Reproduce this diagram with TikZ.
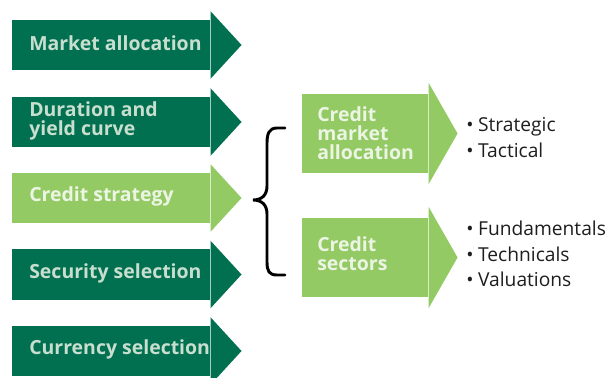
\documentclass[tikz,border=0pt]{standalone}
\usepackage{fontspec}
\setmainfont{Open Sans}
\usetikzlibrary{calc}
\definecolor{dgreen}{RGB}{0,112,80}
\definecolor{lgreen}{RGB}{147,202,100}
\definecolor{dtext}{RGB}{200,222,206}
\definecolor{ltext}{RGB}{236,244,228}
\definecolor{btext}{RGB}{30,30,30}

\begin{document}
\begin{tikzpicture}[x=0.75pt, y=-0.75pt,
    body/.style={rectangle, anchor=west, inner sep=0pt, minimum width=148.5pt, minimum height=37.5pt},
    rbody/.style={rectangle, anchor=west, inner sep=0pt, minimum width=94.5pt, minimum height=59.25pt},
    lbl/.style={anchor=west, inner sep=0pt, align=left, font=\fontsize{14.6}{14.2}\selectfont\bfseries},
    bullets/.style={anchor=west, inner sep=0pt, align=left, text=btext, font=\fontsize{14.4}{19.2}\selectfont}]
  \useasboundingbox (0,0) rectangle (608,378);

  % left column
  \foreach \nm/\cy/\col/\tc/\txt in {mkt/45/dgreen/dtext/Market allocation,
      dur/122/dgreen/dtext/{Duration and\\yield curve},
      crs/198/lgreen/ltext/Credit strategy,
      sec/274.5/dgreen/dtext/Security selection,
      cur/351/dgreen/dtext/Currency selection}
  {
    \node[body, fill=\col] (\nm) at (12,\cy) {};
    \fill[\col] ($(\nm.north east)+(0,-8.5)$) -- ($(\nm.east)+(31,0)$) -- ($(\nm.south east)+(0,8.5)$) -- cycle;
    \node[lbl, text=\tc] (\nm-txt) at ($(\nm.west)+(17,-1.5)$) {\txt};
  }

  % brace
  \draw[line width=2.2pt, line cap=round] (285,128) -- (277,128)
      .. controls (269,128) and (267,134) .. (267,143) -- (267,186)
      .. controls (267,195) and (262,200) .. (253,200)
      .. controls (262,200) and (267,205) .. (267,214) -- (267,262)
      .. controls (267,271) and (269,275) .. (277,275) -- (285,275);

  % right column
  \foreach \nm/\cy/\dy/\txt in {cma/133.5/0/{Credit\\market\\allocation}, csec/257.5/-4/{Credit\\sectors}}
  {
    \node[rbody, fill=lgreen] (\nm) at (302,\cy) {};
    \fill[lgreen] ($(\nm.north east)+(0,-11)$) -- ($(\nm.east)+(29,0)$) -- ($(\nm.south east)+(0,11)$) -- cycle;
    \node[lbl, text=ltext] (\nm-txt) at ($(\nm.west)+(15,\dy)$) {\txt};
  }

  \node[bullets] (strat) at (466,137.5) {\textbullet\hspace{3.5pt}Strategic\\\textbullet\hspace{3.5pt}Tactical};
  \node[bullets] (fund) at (466,254) {\textbullet\hspace{3.5pt}Fundamentals\\\textbullet\hspace{3.5pt}Technicals\\\textbullet\hspace{3.5pt}Valuations};
\end{tikzpicture}
\end{document}
